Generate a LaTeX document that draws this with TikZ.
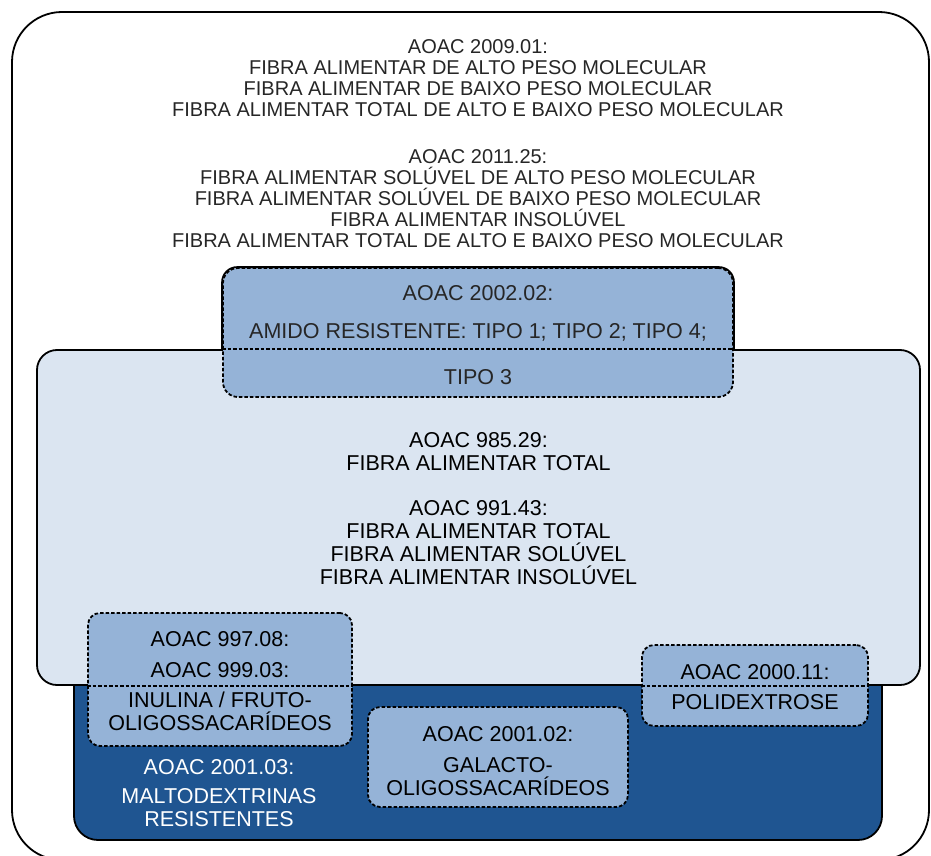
\documentclass[tikz,border=0pt]{standalone}
\usepackage{fontspec}
\setmainfont{Liberation Sans}
\usetikzlibrary{positioning}
\definecolor{paleblue}{HTML}{DBE5F1}
\definecolor{midblue}{HTML}{95B3D7}
\definecolor{deepblue}{HTML}{1F5591}
\definecolor{inkgray}{HTML}{262626}

\begin{document}
\begin{tikzpicture}[x=1pt,y=-1pt,
box/.style={draw,line width=1.8pt,rounded corners=#1,inner sep=0pt},
box/.default=18pt,
dotted box/.style={box=#1,fill=midblue,dash pattern=on 3.5pt off 2pt},
dotted box/.default=12pt,
cut/.style={line width=1.8pt,dash pattern=on 3.5pt off 2pt},
txt/.style={align=center,inner sep=0pt,font=\fontsize{21.5}{23}\selectfont},
head/.style={align=center,inner sep=0pt,text=inkgray,font=\fontsize{20}{21}\selectfont}]
\useasboundingbox (0,0) rectangle (931,856);
% frames, back to front
\node[box=50pt,minimum width=917pt,minimum height=848pt] (outer) at (470.5,436) {};
\node[box=24pt,fill=deepblue,minimum width=808pt,minimum height=200pt] (malto) at (478,740) {};
\node[box=20pt,fill=paleblue,minimum width=883pt,minimum height=335pt] (total) at (478.5,517.5) {};
\node[dotted box=15pt,minimum width=510pt,minimum height=129pt] (starch) at (478,332.5) {};
\begin{scope}
\clip ([shift={(-3,-3)}]starch.north west) rectangle ([xshift=3pt]starch.east |- total.north);
\draw[line width=1.8pt,rounded corners=15pt] (starch.south west) rectangle (starch.north east);
\end{scope}
\draw[cut] (starch.west |- total.north) -- (starch.east |- total.north);
\node[dotted box,minimum width=264pt,minimum height=133pt] (inulin) at (220,679.5) {};
\node[dotted box,minimum width=260pt,minimum height=100pt] (galacto) at (498,757) {};
\node[dotted box,minimum width=226pt,minimum height=81pt] (poly) at (755,685.5) {};
\draw[cut] (inulin.west |- total.south) -- (inulin.east |- total.south);
\draw[cut] (poly.west |- total.south) -- (poly.east |- total.south);
% texts
\node[head] (t2009) at (478,78.5) {AOAC 2009.01:\\FIBRA ALIMENTAR DE ALTO PESO MOLECULAR\\FIBRA ALIMENTAR DE BAIXO PESO MOLECULAR\\FIBRA ALIMENTAR TOTAL DE ALTO E BAIXO PESO MOLECULAR};
\node[head] (t2011) at (478,199) {AOAC 2011.25:\\FIBRA ALIMENTAR SOLÚVEL DE ALTO PESO MOLECULAR\\FIBRA ALIMENTAR SOLÚVEL DE BAIXO PESO MOLECULAR\\FIBRA ALIMENTAR INSOLÚVEL\\FIBRA ALIMENTAR TOTAL DE ALTO E BAIXO PESO MOLECULAR};
\node[txt,text=inkgray] (t200202) at (478,293) {AOAC 2002.02:};
\node[txt,text=inkgray,below=22pt of t200202] (tamido) {AMIDO RESISTENTE: TIPO 1; TIPO 2; TIPO 4;};
\node[txt,text=inkgray] (ttipo3) at (478,377) {TIPO 3};
\node[txt] (t98529) at (478.5,451.5) {AOAC 985.29:\\FIBRA ALIMENTAR TOTAL};
\node[txt] (t99143) at (478.5,542.5) {AOAC 991.43:\\FIBRA ALIMENTAR TOTAL\\FIBRA ALIMENTAR SOLÚVEL\\FIBRA ALIMENTAR INSOLÚVEL};
\node[txt] (t99708) at (220,639) {AOAC 997.08:};
\node[txt,below=15pt of t99708] (t99903) {AOAC 999.03:};
\node[txt] (tinulin) at (220,711.5) {INULINA / FRUTO-\\OLIGOSSACARÍDEOS};
\node[txt,text=white] (t200103) at (219,767) {AOAC 2001.03:};
\node[txt,text=white] (tmalto) at (219,807.5) {MALTODEXTRINAS\\RESISTENTES};
\node[txt] (t200102) at (498,734) {AOAC 2001.02:};
\node[txt] (tgalacto) at (498,776.5) {GALACTO-\\OLIGOSSACARÍDEOS};
\node[txt] (t200011) at (755,672) {AOAC 2000.11:};
\node[txt,below=14pt of t200011] (tpoli) {POLIDEXTROSE};
\end{tikzpicture}
\end{document}
